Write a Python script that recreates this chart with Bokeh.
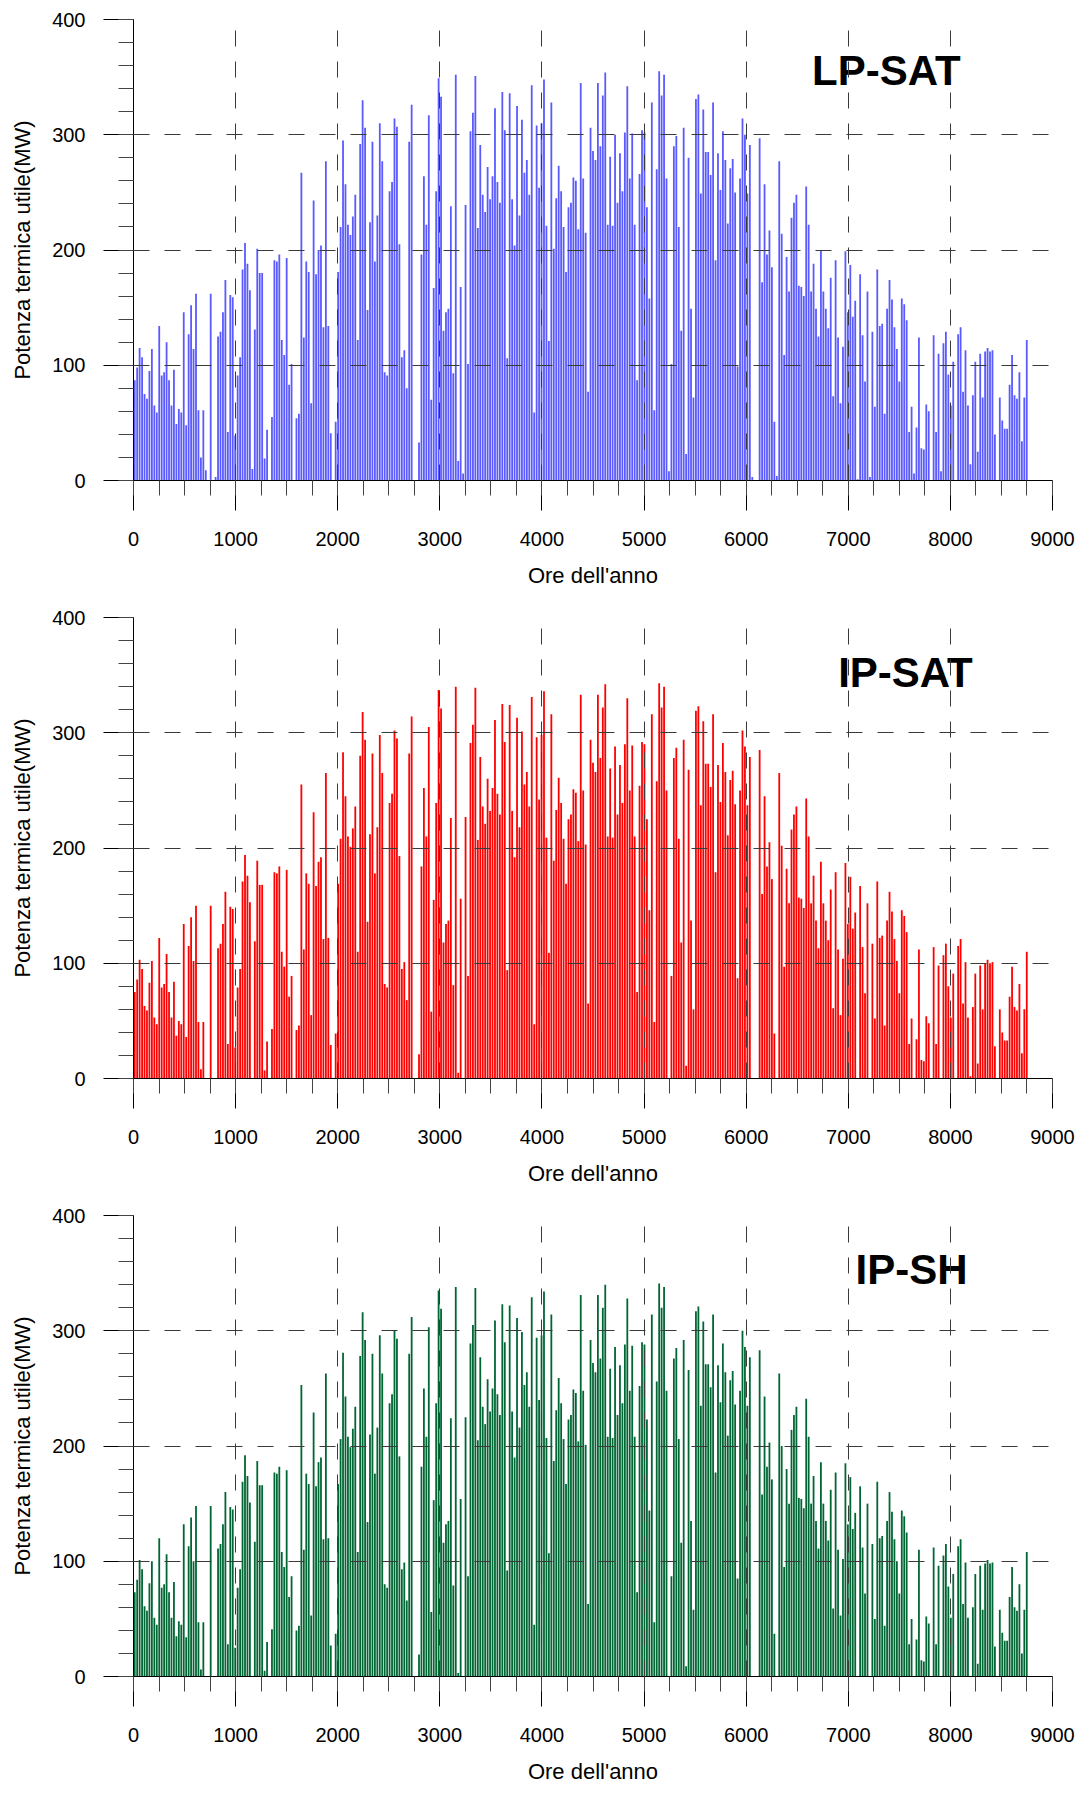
from bokeh.plotting import figure
from bokeh.layouts import column
from bokeh.models import Range1d, SingleIntervalTicker, Label
from bokeh.embed import file_html
from bokeh.resources import INLINE

# Daily peak of useful thermal power (MW), one value per day of the year
lp_sat = [
    87, 98, 115, 107, 75, 71, 95, 114, 65, 59, 134, 91, 94, 120, 87, 65, 96, 49, 62, 59,
    146, 48, 127, 152, 114, 162, 61, 20, 61, 9, 0, 162, 0, 3, 125, 129, 146, 174, 42, 161,
    159, 39, 91, 107, 183, 206, 188, 165, 10, 131, 201, 180, 180, 19, 44, 0, 55, 191, 190, 196,
    122, 109,
    193, 83, 101, 0, 54, 58, 267, 124, 190, 181, 67, 243, 179, 200, 204, 133, 277, 134, 41, 0,
    51, 181, 220, 295, 257, 222, 213, 229, 248, 122, 292, 330, 306, 148, 224, 294, 190, 230, 310, 277,
    94, 91, 251, 259, 314, 307, 205, 107, 113, 80, 294, 326, 0, 0, 33, 196, 264, 222, 317, 70,
    167, 251, 349,
    333, 130, 146, 149, 238, 93, 352, 17, 168, 6, 239, 101, 303, 319, 351, 219, 291, 248, 233, 272,
    244, 264, 323, 259, 241, 337, 304, 106, 336, 244, 204, 325, 230, 313, 267, 278, 248, 343, 59, 308,
    254, 310, 348, 221, 121, 328, 201, 245, 273, 251, 220, 181, 237, 241, 263, 260, 218, 345, 262, 215,
    77, 306, 286,
    278, 345, 290, 334, 354, 222, 281, 221, 300, 241, 284, 251, 302, 342, 262, 301, 222, 87, 266, 304,
    302, 237, 158, 328, 61, 270, 355, 334, 352, 262, 8, 101, 290, 299, 220, 130, 306, 23, 280, 149,
    72, 331, 335, 249, 322, 285, 285, 265, 328, 191, 284, 252, 303, 278, 223, 271, 279, 250, 99, 262,
    314, 300, 249, 291,
    3, 0, 0, 297, 172, 257, 196, 217, 185, 51, 4, 277, 214, 109, 194, 164, 228, 241, 248, 169,
    168, 160, 255, 222, 164, 188, 149, 125, 200, 164, 149, 132, 176, 73, 191, 124, 67, 116, 199, 146,
    187, 142, 156, 1, 179, 126, 86, 164, 3, 129, 64, 183, 134, 136, 58, 149, 174, 157, 133, 114,
    86, 158, 153, 139,
    42, 64, 6, 46, 124, 28, 27, 66, 60, 0, 126, 42, 110, 8, 119, 129, 92, 65, 103, 0,
    127, 133, 77, 113, 65, 14, 74, 103, 25, 110, 72, 112, 115, 112, 113, 40, 0, 72, 52, 45,
    45, 83, 109, 74, 71, 94, 34, 72, 122,
]

ip_sat = [
    75, 86, 103, 95, 63, 59, 83, 102, 53, 47, 122, 79, 82, 108, 75, 53, 84, 37, 50, 47,
    134, 36, 115, 140, 102, 150, 49, 8, 49, 0, 0, 150, 0, 0, 113, 117, 134, 162, 30, 149,
    147, 27, 79, 95, 171, 194, 176, 153, 0, 119, 189, 168, 168, 7, 32, 0, 43, 179, 178, 184,
    110, 97,
    181, 71, 89, 0, 42, 46, 255, 112, 178, 169, 55, 231, 167, 188, 192, 121, 265, 122, 29, 0,
    39, 169, 208, 283, 245, 210, 201, 217, 236, 110, 280, 318, 294, 136, 212, 282, 178, 218, 298, 265,
    82, 79, 239, 247, 302, 295, 193, 95, 101, 68, 282, 314, 0, 0, 21, 184, 252, 210, 305, 58,
    155, 239, 337,
    321, 118, 134, 137, 226, 81, 340, 5, 156, 0, 227, 89, 291, 307, 339, 207, 279, 236, 221, 260,
    232, 252, 311, 247, 229, 325, 292, 94, 324, 232, 192, 313, 218, 301, 255, 266, 236, 331, 47, 296,
    242, 298, 336, 209, 109, 316, 189, 233, 261, 239, 208, 169, 225, 229, 251, 248, 206, 333, 250, 203,
    65, 294, 274,
    266, 333, 278, 322, 342, 210, 269, 209, 288, 229, 272, 239, 290, 330, 250, 289, 210, 75, 254, 292,
    290, 225, 146, 316, 49, 258, 343, 322, 340, 250, 0, 89, 278, 287, 208, 118, 294, 11, 268, 137,
    60, 319, 323, 237, 310, 273, 273, 253, 316, 179, 272, 240, 291, 266, 211, 259, 267, 238, 87, 250,
    302, 288, 237, 279,
    0, 0, 0, 285, 160, 245, 184, 205, 173, 39, 0, 265, 202, 97, 182, 152, 216, 229, 236, 157,
    156, 148, 243, 210, 152, 176, 137, 113, 188, 152, 137, 120, 164, 61, 179, 112, 55, 104, 187, 134,
    175, 130, 144, 0, 167, 114, 74, 152, 0, 117, 52, 171, 122, 124, 46, 137, 162, 145, 121, 102,
    74, 146, 141, 127,
    30, 52, 0, 34, 112, 16, 15, 54, 48, 0, 114, 30, 98, 0, 107, 117, 80, 53, 91, 0,
    115, 121, 65, 101, 53, 2, 62, 91, 13, 98, 60, 100, 103, 100, 101, 28, 0, 60, 40, 33,
    33, 71, 97, 62, 59, 82, 22, 60, 110,
]

ip_sh = [
    73, 84, 101, 93, 61, 57, 81, 100, 51, 45, 120, 77, 80, 106, 73, 51, 82, 35, 48, 45,
    132, 34, 113, 138, 100, 148, 47, 6, 47, 0, 0, 148, 0, 0, 111, 115, 132, 160, 28, 147,
    145, 25, 77, 93, 169, 192, 174, 151, 0, 117, 187, 166, 166, 5, 30, 0, 41, 177, 176, 182,
    108, 95,
    179, 69, 87, 0, 40, 44, 253, 110, 176, 167, 53, 229, 165, 186, 190, 119, 263, 120, 27, 0,
    37, 167, 206, 281, 243, 208, 199, 215, 234, 108, 278, 316, 292, 134, 210, 280, 176, 216, 296, 263,
    80, 77, 237, 245, 300, 293, 191, 93, 99, 66, 280, 312, 0, 0, 19, 182, 250, 208, 303, 56,
    153, 237, 335,
    319, 116, 132, 135, 224, 79, 338, 3, 154, 0, 225, 87, 289, 305, 337, 205, 277, 234, 219, 258,
    230, 250, 309, 245, 227, 323, 290, 92, 322, 230, 190, 311, 216, 299, 253, 264, 234, 329, 45, 294,
    240, 296, 334, 207, 107, 314, 187, 231, 259, 237, 206, 167, 223, 227, 249, 246, 204, 331, 248, 201,
    63, 292, 272,
    264, 331, 276, 320, 340, 208, 267, 207, 286, 227, 270, 237, 288, 328, 248, 287, 208, 73, 252, 290,
    288, 223, 144, 314, 47, 256, 341, 320, 338, 248, 0, 87, 276, 285, 206, 116, 292, 9, 266, 135,
    58, 317, 321, 235, 308, 271, 271, 251, 314, 177, 270, 238, 289, 264, 209, 257, 265, 236, 85, 248,
    300, 286, 235, 277,
    0, 0, 0, 283, 158, 243, 182, 203, 171, 37, 0, 263, 200, 95, 180, 150, 214, 227, 234, 155,
    154, 146, 241, 208, 150, 174, 135, 111, 186, 150, 135, 118, 162, 59, 177, 110, 53, 102, 185, 132,
    173, 128, 142, 0, 165, 112, 72, 150, 0, 115, 50, 169, 120, 122, 44, 135, 160, 143, 119, 100,
    72, 144, 139, 125,
    28, 50, 0, 32, 110, 14, 13, 52, 46, 0, 112, 28, 96, 0, 105, 115, 78, 51, 89, 0,
    113, 119, 63, 99, 51, 0, 60, 89, 11, 96, 58, 98, 101, 98, 99, 26, 0, 58, 38, 31,
    31, 69, 95, 60, 57, 80, 20, 58, 108,
]

panel_names = ["LP-SAT", "IP-SAT", "IP-SH"]
panel_colors = ["#5a5aff", "#ff0000", "#006633"]
name_positions = [(7372, 356), (7560, 352), (7619, 353)]

x_title = "Ore dell'anno"
y_title = "Potenza termica utile(MW)"

FONT = "Liberation Sans"
GRID_COLOR = "#3a3a3a"


def make_panel(values, color, name, name_xy):
    p = figure(
        width=1089, height=598,
        x_range=Range1d(0, 9000), y_range=Range1d(0, 400),
        min_border_left=133, min_border_right=37,
        min_border_top=19, min_border_bottom=118,
        output_backend="svg", toolbar_location=None,
        background_fill_color="white", border_fill_color="white",
    )
    p.outline_line_color = None

    # one spike per day, centred on midday
    hours = [d * 24 + 12 for d in range(len(values))]
    p.segment(x0=hours, y0=0, x1=hours, y1=values, line_color=color, line_width=1.8)

    p.xaxis.ticker = SingleIntervalTicker(interval=1000, num_minor_ticks=4)
    p.yaxis.ticker = SingleIntervalTicker(interval=100, num_minor_ticks=5)

    for ax in (p.xaxis[0], p.yaxis[0]):
        ax.axis_line_color = "black"
        ax.axis_line_width = 1
        ax.major_tick_line_color = "black"
        ax.minor_tick_line_color = "#444444"
        ax.major_tick_in = 0
        ax.major_tick_out = 30
        ax.minor_tick_in = 0
        ax.minor_tick_out = 15
        ax.major_label_text_font = FONT
        ax.major_label_text_font_size = "20px"
        ax.major_label_text_color = "black"
        ax.axis_label_text_font = FONT
        ax.axis_label_text_font_size = "22px"
        ax.axis_label_text_font_style = "normal"
        ax.axis_label_text_color = "black"

    p.xaxis.major_label_standoff = 21
    p.xaxis.axis_label = x_title
    p.xaxis.axis_label_standoff = 14
    p.yaxis.major_label_standoff = 18
    p.yaxis.axis_label = y_title
    p.yaxis.axis_label_standoff = 14

    # dashed grid drawn over the spikes
    p.xgrid.ticker = SingleIntervalTicker(interval=1000)
    p.ygrid.ticker = SingleIntervalTicker(interval=100)
    for g in (p.xgrid[0], p.ygrid[0]):
        g.grid_line_color = GRID_COLOR
        g.grid_line_width = 1
        g.grid_line_dash = "16 15"
        g.level = "overlay"

    p.add_layout(Label(
        x=name_xy[0], y=name_xy[1], text=name,
        text_font=FONT, text_font_size="42px", text_font_style="bold",
        text_color="black", text_align="center", text_baseline="alphabetic",
    ))
    return p


panels = [
    make_panel(vals, col, nm, pos)
    for vals, col, nm, pos in zip([lp_sat, ip_sat, ip_sh], panel_colors, panel_names, name_positions)
]

layout = column(*panels, spacing=0)

with open("out.html", "w") as f:
    f.write(file_html(layout, INLINE))
